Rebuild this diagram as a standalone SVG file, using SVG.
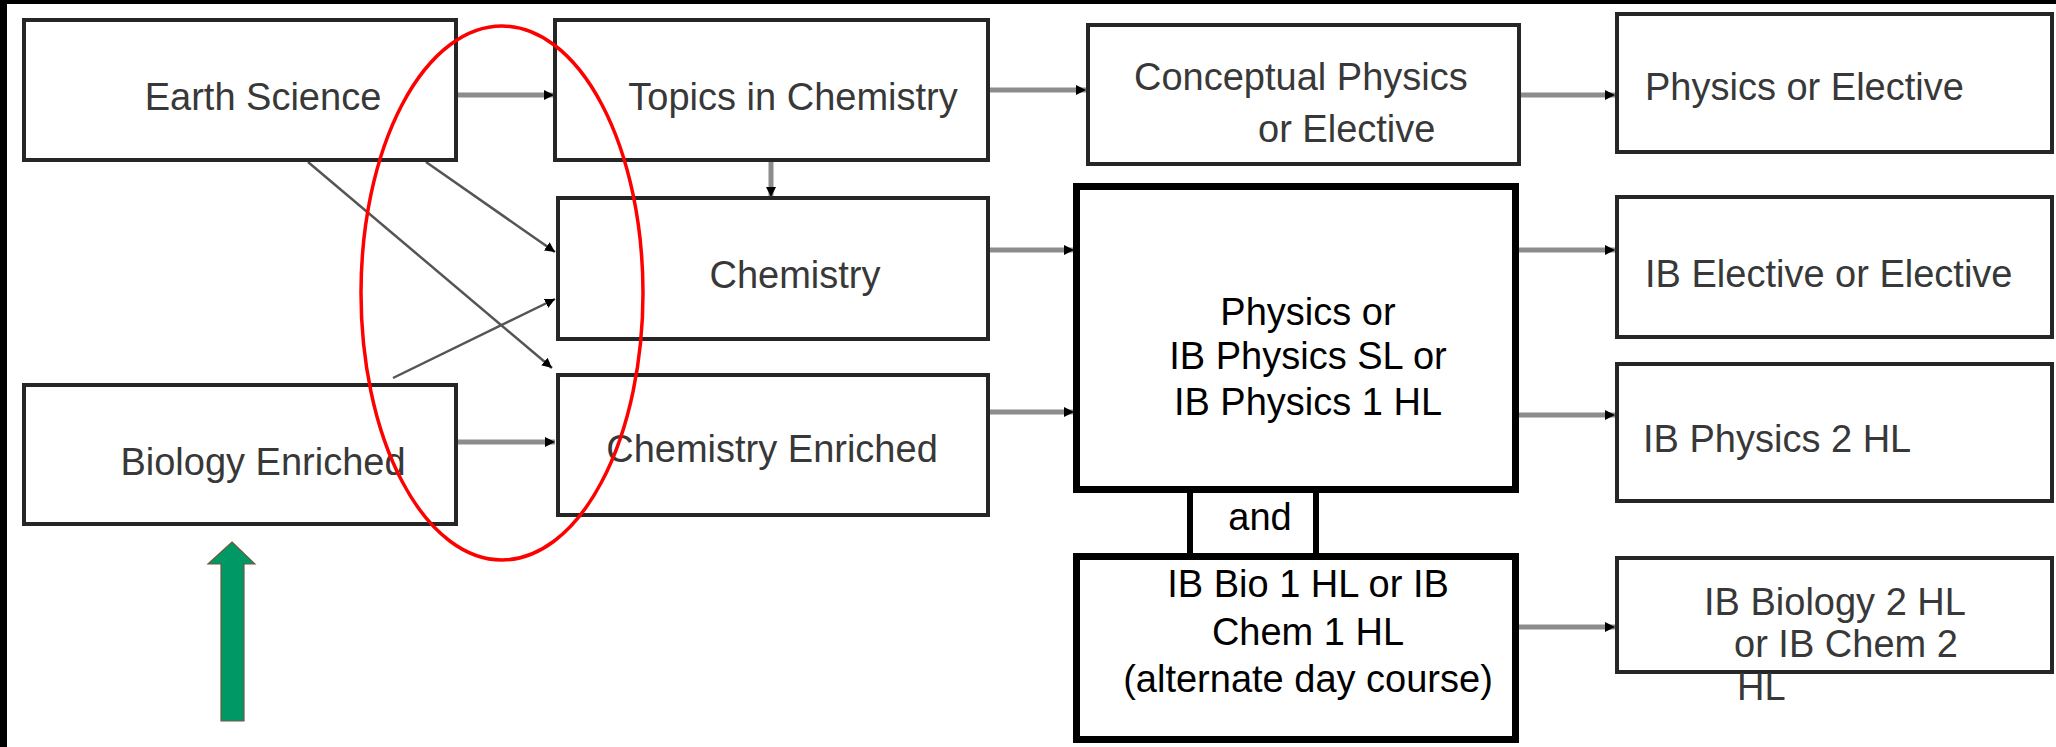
<svg xmlns="http://www.w3.org/2000/svg" width="2056" height="747" viewBox="0 0 2056 747">
  <style>
    .box { fill: #ffffff; stroke: #262626; stroke-width: 4; }
    .bold { fill: #ffffff; stroke: #000000; stroke-width: 7; }
    .t { font-family: "Liberation Sans", Arial, sans-serif; font-size: 38px; fill: #383838; }
    .k { font-family: "Liberation Sans", Arial, sans-serif; font-size: 38px; fill: #000000; }
    .m { text-anchor: middle; }
    .flow { stroke: #8c8c8c; stroke-width: 5; fill: none; }
    .diag { stroke: #555555; stroke-width: 2.5; fill: none; }
  </style>
  <defs>
    <marker id="ah" viewBox="0 0 10 10" refX="10" refY="5" markerWidth="10" markerHeight="10" markerUnits="userSpaceOnUse" orient="auto">
      <path d="M0,0 L10,5 L0,10 z" fill="#000000"/>
    </marker>
  </defs>

  <rect x="0" y="0" width="2056" height="747" fill="#ffffff"/>
  <rect x="0" y="0" width="7" height="747" fill="#000000"/>
  <rect x="0" y="0" width="2056" height="4" fill="#000000"/>

  <g id="connectors">
    <line class="flow" x1="458" y1="95" x2="554" y2="95" marker-end="url(#ah)"/>
    <line class="flow" x1="458" y1="442" x2="555" y2="442" marker-end="url(#ah)"/>
    <line class="flow" x1="990" y1="90" x2="1086" y2="90" marker-end="url(#ah)"/>
    <line class="flow" x1="771" y1="162" x2="771" y2="197" marker-end="url(#ah)"/>
    <line class="flow" x1="990" y1="250" x2="1074" y2="250" marker-end="url(#ah)"/>
    <line class="flow" x1="990" y1="412" x2="1074" y2="412" marker-end="url(#ah)"/>
    <line class="flow" x1="1521" y1="95" x2="1615" y2="95" marker-end="url(#ah)"/>
    <line class="flow" x1="1519" y1="250" x2="1615" y2="250" marker-end="url(#ah)"/>
    <line class="flow" x1="1519" y1="415" x2="1615" y2="415" marker-end="url(#ah)"/>
    <line class="flow" x1="1519" y1="627" x2="1615" y2="627" marker-end="url(#ah)"/>
    <line class="diag" x1="426" y1="162" x2="555" y2="252" marker-end="url(#ah)"/>
    <line class="diag" x1="308" y1="162" x2="552" y2="368" marker-end="url(#ah)"/>
    <line class="diag" x1="393" y1="378" x2="555" y2="299" marker-end="url(#ah)"/>
  </g>

  <g id="earth-science">
    <rect class="box" x="24" y="20" width="432" height="140"/>
    <text class="t m" x="263" y="110">Earth Science</text>
  </g>
  <g id="topics-in-chemistry">
    <rect class="box" x="555" y="20" width="433" height="140"/>
    <text class="t m" x="793" y="110">Topics in Chemistry</text>
  </g>
  <g id="chemistry">
    <rect class="box" x="558" y="198" width="430" height="141"/>
    <text class="t m" x="795" y="288">Chemistry</text>
  </g>
  <g id="chemistry-enriched">
    <rect class="box" x="558" y="375" width="430" height="140"/>
    <text class="t m" x="772" y="462">Chemistry Enriched</text>
  </g>
  <g id="biology-enriched">
    <rect class="box" x="24" y="385" width="432" height="139"/>
    <text class="t m" x="263" y="475">Biology Enriched</text>
  </g>
  <g id="conceptual-physics">
    <rect class="box" x="1088" y="25" width="431" height="139"/>
    <text class="t" x="1134" y="90">Conceptual Physics</text>
    <text class="t" x="1258" y="142">or Elective</text>
  </g>
  <g id="physics-or-elective">
    <rect class="box" x="1617" y="14" width="435" height="138"/>
    <text class="t" x="1645" y="100">Physics or Elective</text>
  </g>
  <g id="ib-elective">
    <rect class="box" x="1617" y="197" width="435" height="140"/>
    <text class="t" x="1645" y="287">IB Elective or Elective</text>
  </g>
  <g id="ib-physics-2">
    <rect class="box" x="1617" y="364" width="435" height="137"/>
    <text class="t" x="1643" y="452">IB Physics 2 HL</text>
  </g>
  <g id="ib-biology-2">
    <rect class="box" x="1617" y="558" width="435" height="114"/>
    <text class="t" x="1704" y="615">IB Biology 2 HL</text>
    <text class="t" x="1734" y="657">or IB Chem 2</text>
    <text class="t" x="1737" y="700">HL</text>
  </g>
  <g id="physics">
    <rect class="bold" x="1076.5" y="186.5" width="439" height="303"/>
    <text class="k m" x="1308" y="325">Physics or</text>
    <text class="k m" x="1308" y="369">IB Physics SL or</text>
    <text class="k m" x="1308" y="415">IB Physics 1 HL</text>
  </g>
  <g id="and">
    <line x1="1190" y1="490" x2="1190" y2="556" stroke="#000" stroke-width="6"/>
    <line x1="1316" y1="490" x2="1316" y2="556" stroke="#000" stroke-width="6"/>
    <text class="k m" x="1260" y="530">and</text>
  </g>
  <g id="ib-bio-chem-1">
    <rect class="bold" x="1076.5" y="556.5" width="439" height="183"/>
    <text class="k m" x="1308" y="597">IB Bio 1 HL or IB</text>
    <text class="k m" x="1308" y="645">Chem 1 HL</text>
    <text class="k m" x="1308" y="692">(alternate day course)</text>
  </g>

  <g id="highlight-ellipse">
    <ellipse cx="502" cy="293" rx="141" ry="267" fill="none" stroke="#ff0000" stroke-width="3.5"/>
  </g>
  <g id="green-arrow">
    <polygon points="232,542 255,564 244,564 244,721 221,721 221,564 208,564" fill="#009966" stroke="#6b5b3e" stroke-width="1.2"/>
  </g>
</svg>
